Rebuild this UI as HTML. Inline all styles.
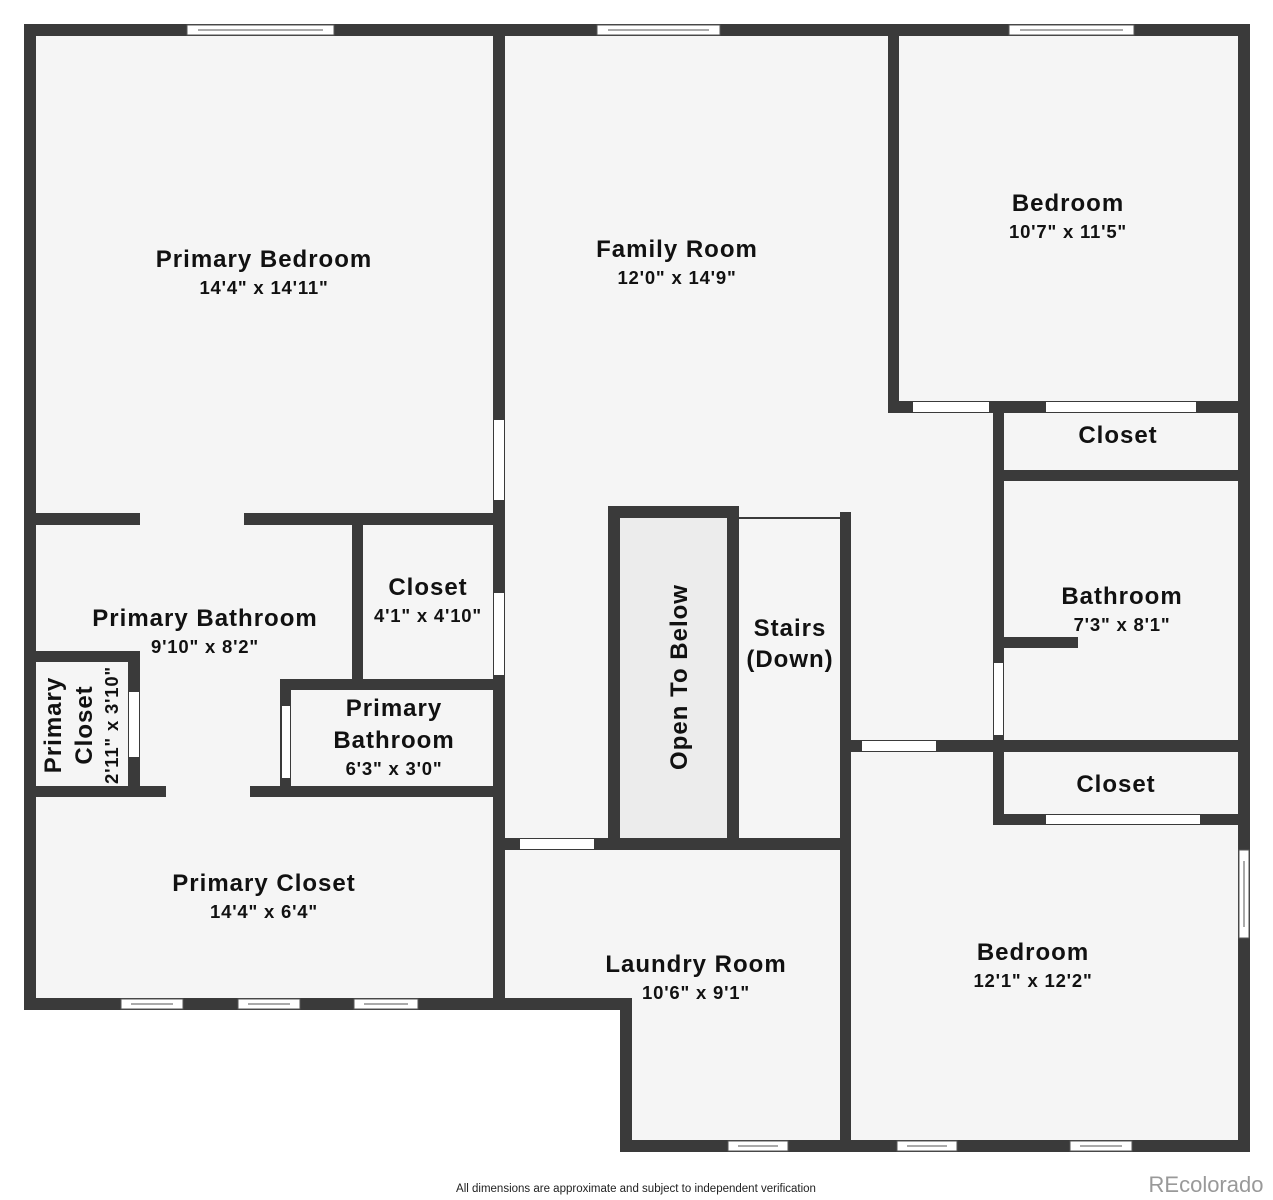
<!DOCTYPE html>
<html><head><meta charset="utf-8"><style>
html,body{margin:0;padding:0;background:#fff;}
svg{display:block;}
text{font-family:"Liberation Sans",sans-serif;font-weight:bold;fill:#111;text-anchor:middle;}
.n{font-size:24px;letter-spacing:1px;}
.d{font-size:18.5px;letter-spacing:0.8px;}
</style></head><body>
<svg width="1273" height="1200" viewBox="0 0 1273 1200" xmlns="http://www.w3.org/2000/svg">
<rect width="1273" height="1200" fill="#fff"/>
<g fill="#f5f5f5">
<rect x="30" y="30" width="1214" height="974"/>
<rect x="626" y="1000" width="618" height="146"/>
</g>
<rect x="614" y="512" width="118" height="332" fill="#ececec"/>
<g fill="#3a3a3a">
<rect x="24" y="24" width="1226" height="12"/>
<rect x="24" y="24" width="12" height="986"/>
<rect x="24" y="998" width="608" height="12"/>
<rect x="620" y="998" width="12" height="154"/>
<rect x="620" y="1140" width="630" height="12"/>
<rect x="1238" y="24" width="12" height="1128"/>
<rect x="493" y="24" width="12" height="986"/>
<rect x="888" y="24" width="11" height="389"/>
<rect x="888" y="401" width="362" height="12"/>
<rect x="993" y="401" width="11" height="424"/>
<rect x="993" y="470" width="257" height="11"/>
<rect x="1004" y="637" width="74" height="11"/>
<rect x="840" y="740" width="410" height="12"/>
<rect x="993" y="814" width="257" height="11"/>
<rect x="608" y="506" width="131" height="12"/>
<rect x="608" y="506" width="12" height="344"/>
<rect x="727" y="506" width="12" height="344"/>
<rect x="840" y="512" width="11" height="640"/>
<rect x="493" y="838" width="358" height="12"/>
<rect x="24" y="513" width="116" height="12"/>
<rect x="244" y="513" width="261" height="12"/>
<rect x="352" y="513" width="11" height="177"/>
<rect x="280" y="679" width="225" height="11"/>
<rect x="280" y="679" width="11" height="117"/>
<rect x="24" y="786" width="142" height="11"/>
<rect x="250" y="786" width="255" height="11"/>
<rect x="24" y="651" width="116" height="11"/>
<rect x="128" y="651" width="12" height="146"/>
</g>
<g fill="#fff">
<rect x="494" y="420" width="10" height="80"/>
<rect x="494" y="593" width="10" height="82"/>
<rect x="129" y="692" width="10" height="65"/>
<rect x="282" y="706" width="8" height="72"/>
<rect x="913" y="402" width="76" height="10"/>
<rect x="1046" y="402" width="150" height="10"/>
<rect x="994" y="663" width="9" height="72"/>
<rect x="862" y="741" width="74" height="10"/>
<rect x="1046" y="815" width="154" height="9"/>
<rect x="520" y="839" width="74" height="10"/>
</g>
<line x1="739" y1="518" x2="840" y2="518" stroke="#3a3a3a" stroke-width="2"/>
<g fill="#fff" stroke="#555" stroke-width="1">
<rect x="187" y="25" width="147" height="10"/><line x1="198" y1="30" x2="323" y2="30"/>
<rect x="597" y="25" width="123" height="10"/><line x1="608" y1="30" x2="709" y2="30"/>
<rect x="1009" y="25" width="125" height="10"/><line x1="1020" y1="30" x2="1123" y2="30"/>
<rect x="121" y="999" width="62" height="10"/><line x1="131" y1="1004" x2="173" y2="1004"/>
<rect x="238" y="999" width="62" height="10"/><line x1="248" y1="1004" x2="290" y2="1004"/>
<rect x="354" y="999" width="64" height="10"/><line x1="364" y1="1004" x2="408" y2="1004"/>
<rect x="728" y="1141" width="60" height="10"/><line x1="738" y1="1146" x2="778" y2="1146"/>
<rect x="897" y="1141" width="60" height="10"/><line x1="907" y1="1146" x2="947" y2="1146"/>
<rect x="1070" y="1141" width="62" height="10"/><line x1="1080" y1="1146" x2="1122" y2="1146"/>
<rect x="1239" y="850" width="10" height="88"/><line x1="1244" y1="861" x2="1244" y2="927"/>
</g>
<text class="n" x="264" y="267">Primary Bedroom</text>
<text class="d" x="264" y="294">14'4" x 14'11"</text>
<text class="n" x="677" y="257">Family Room</text>
<text class="d" x="677" y="284">12'0" x 14'9"</text>
<text class="n" x="1068" y="211">Bedroom</text>
<text class="d" x="1068" y="238">10'7" x 11'5"</text>
<text class="n" x="1118" y="443">Closet</text>
<text class="n" x="1122" y="604">Bathroom</text>
<text class="d" x="1122" y="631">7'3" x 8'1"</text>
<text class="n" x="1116" y="792">Closet</text>
<text class="n" x="205" y="626">Primary Bathroom</text>
<text class="d" x="205" y="653">9'10" x 8'2"</text>
<text class="n" x="428" y="595">Closet</text>
<text class="d" x="428" y="622">4'1" x 4'10"</text>
<text class="n" x="394" y="716">Primary</text>
<text class="n" x="394" y="748">Bathroom</text>
<text class="d" x="394" y="775">6'3" x 3'0"</text>
<text class="n" x="790" y="636">Stairs</text>
<text class="n" x="790" y="667">(Down)</text>
<text class="n" transform="translate(687,677) rotate(-90)">Open To Below</text>
<text class="n" transform="translate(61,725) rotate(-90)">Primary</text>
<text class="n" transform="translate(92,725) rotate(-90)">Closet</text>
<text class="d" transform="translate(118,725) rotate(-90)">2'11" x 3'10"</text>
<text class="n" x="264" y="891">Primary Closet</text>
<text class="d" x="264" y="918">14'4" x 6'4"</text>
<text class="n" x="696" y="972">Laundry Room</text>
<text class="d" x="696" y="999">10'6" x 9'1"</text>
<text class="n" x="1033" y="960">Bedroom</text>
<text class="d" x="1033" y="987">12'1" x 12'2"</text>
<text x="636" y="1192" style="font-size:11.5px;font-weight:normal;fill:#222">All dimensions are approximate and subject to independent verification</text>
<text x="1206" y="1192" style="font-size:22px;font-weight:normal;fill:#999">REcolorado</text>
</svg>
</body></html>
